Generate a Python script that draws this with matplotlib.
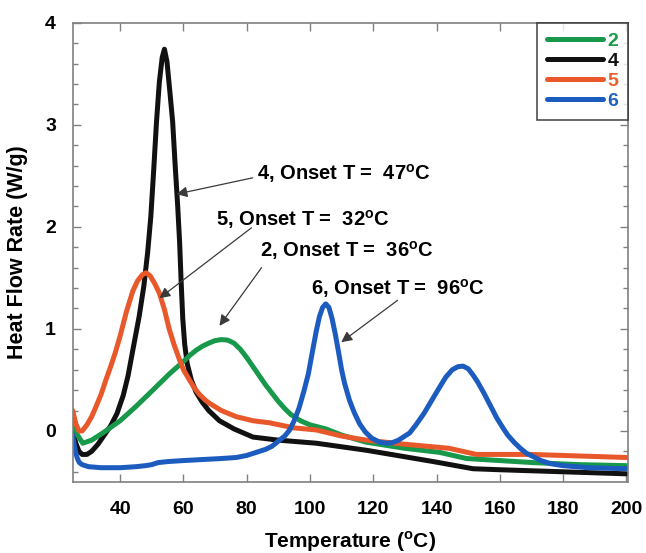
import matplotlib
matplotlib.use("Agg")
import matplotlib.pyplot as plt
from matplotlib.ticker import MultipleLocator

plt.rcParams['font.family'] = ['Liberation Sans', 'DejaVu Sans']
plt.rcParams['font.weight'] = 'bold'
plt.rcParams['mathtext.fontset'] = 'custom'
plt.rcParams['mathtext.rm'] = 'Liberation Sans:bold'

# ---- data ----
t_2 = [25, 26.5, 28.2, 31, 34.5, 40, 45, 50, 55.6, 60, 62, 64, 66, 68, 70, 72, 74, 76, 78,
       80, 82, 84, 86, 88, 90, 92, 94, 97, 100, 105, 110, 117.8, 130, 141, 149.5, 160, 170.5,
       185, 200]
v_2 = [0.1, -0.04, -0.12, -0.09, -0.02, 0.1, 0.24, 0.39, 0.56, 0.68, 0.74, 0.79, 0.83, 0.86,
       0.885, 0.895, 0.89, 0.86, 0.8, 0.72, 0.63, 0.54, 0.45, 0.37, 0.29, 0.22, 0.16, 0.1,
       0.06, 0.02, -0.04, -0.11, -0.17, -0.21, -0.27, -0.29, -0.31, -0.33, -0.34]

t_4 = [25, 26, 27, 28, 29.5, 31, 33, 35, 37, 39, 41, 42.5, 44, 46, 47.5, 48.7, 49.7, 50.6,
       51.5, 52.4, 53.3, 54, 54.8, 55.7, 56.6, 57.4, 58.2, 58.8, 59.3, 59.8, 60.4, 61.2, 62.5,
       64, 66, 68, 71.4, 76, 82, 90, 102, 118, 139, 151.5, 160, 170, 180, 190, 200]
v_4 = [0.0, -0.12, -0.2, -0.23, -0.23, -0.2, -0.13, -0.04, 0.05, 0.17, 0.35, 0.54, 0.79, 1.12,
       1.42, 1.75, 2.1, 2.55, 3.03, 3.42, 3.66, 3.74, 3.62, 3.33, 3.03, 2.6, 2.2, 1.85, 1.45,
       1.1, 0.85, 0.66, 0.5, 0.38, 0.28, 0.2, 0.1, 0.02, -0.06, -0.09, -0.12, -0.19, -0.30,
       -0.37, -0.38, -0.39, -0.40, -0.41, -0.42]

t_5 = [25, 26, 27, 28, 29.5, 31, 32.4, 34, 35.5, 37, 38.5, 40, 42, 44, 45.5, 47, 48.2, 49.5,
       51, 52.4, 54, 55.5, 57, 58.5, 60, 61.9, 63.5, 65, 67, 68.3, 72, 76.7, 82, 87.2, 95, 102,
       110, 117.8, 130, 144, 152.6, 160, 170, 180, 200]
v_5 = [0.2, 0.07, 0.0, 0.0, 0.06, 0.14, 0.24, 0.36, 0.5, 0.63, 0.77, 0.93, 1.17, 1.37, 1.47,
       1.53, 1.55, 1.52, 1.44, 1.35, 1.19, 1.0, 0.85, 0.72, 0.6, 0.5, 0.42, 0.36, 0.3, 0.27, 0.2,
       0.14, 0.1, 0.08, 0.03, 0.01, -0.05, -0.09, -0.13, -0.17, -0.23, -0.23, -0.23, -0.24,
       -0.26]

t_6 = [25, 25.5, 26, 26.5, 27.1, 28, 30, 34, 40, 45, 48, 50, 52, 55, 60, 66, 72, 76.7, 80, 83,
       86, 88, 90, 92, 93.6, 95, 96.5, 98, 99.5, 100.8, 102, 103, 104, 105, 106, 107, 108, 109,
       110, 111, 112.5, 114, 115.7, 117.5, 119.5, 122, 124.2, 126, 128, 130, 131.5, 133.5, 136,
       138.5, 141, 143, 145, 146.8, 148.4, 150, 151.5, 153, 155, 157, 159, 161, 162.5, 164.5,
       166.5, 168.5, 170.5, 173, 176, 180, 188, 200]
v_6 = [-0.04, -0.14, -0.22, -0.27, -0.31, -0.33, -0.35, -0.36, -0.36, -0.35, -0.34, -0.33,
       -0.31, -0.30, -0.29, -0.28, -0.27, -0.26, -0.24, -0.21, -0.18, -0.15, -0.1, -0.05, 0.01,
       0.1, 0.22, 0.38, 0.56, 0.78, 0.98, 1.12, 1.21, 1.245, 1.21, 1.1, 0.95, 0.78, 0.6, 0.46,
       0.3, 0.18, 0.07, -0.01, -0.07, -0.11, -0.12, -0.115, -0.09, -0.05, -0.02, 0.06, 0.17,
       0.3, 0.43, 0.53, 0.6, 0.63, 0.635, 0.61, 0.55, 0.48, 0.37, 0.25, 0.13, 0.03, -0.04,
       -0.11, -0.17, -0.22, -0.25, -0.29, -0.32, -0.34, -0.36, -0.37]

labels = ['2', '4', '5', '6']
colors = ['#17984a', '#111111', '#e8582a', '#1d5cbf']
label_colors = ['#1f9a4a', '#111111', '#e8602c', '#2060c0']

annot_texts = ['4, Onset T =  47$^\\mathregular{o}$C', '5, Onset T =  32$^\\mathregular{o}$C',
               '2, Onset T =  36$^\\mathregular{o}$C', '6, Onset T =  96$^\\mathregular{o}$C']
annot_text_pos = [(83.4, 2.52), (70.2, 2.07), (84.1, 1.77), (100.4, 1.40)]
arrow_starts = [(81.9, 2.48), (81.5, 1.99), (84.7, 1.60), (127.7, 1.28)]
arrow_tips = [(57.8, 2.32), (52.4, 1.30), (71.4, 1.03), (109.9, 0.87)]

# ---- figure ----
fig = plt.figure(figsize=(6.46, 5.53), dpi=100)
ax = fig.add_axes([0.1125, 0.1284, 0.8595, 0.8306])

series = [(t_2, v_2), (t_4, v_4), (t_5, v_5), (t_6, v_6)]
order = [1, 0, 2, 3]
lines = {}
for i in order:
    t, v = series[i]
    ln, = ax.plot(t, v, color=colors[i], lw=3.6, solid_joinstyle='round',
                  solid_capstyle='round', label=labels[i])
    lines[i] = ln

ax.set_xlim(25, 200.5)
ax.set_ylim(-0.5, 4.0)
ax.yaxis.set_minor_locator(MultipleLocator(0.2))
ax.tick_params(axis='both', which='both', direction='in', top=True, right=True,
               color='#808080')
ax.tick_params(axis='both', which='major', length=6, width=1, labelsize=14, pad=14)
ax.tick_params(axis='y', which='major', pad=12)
ax.tick_params(axis='y', which='minor', length=3.5, width=1)
ax.set_xticks(range(40, 201, 20))
ax.set_yticks(range(0, 5))
for lab in ax.get_xticklabels() + ax.get_yticklabels():
    lab.set_fontweight('bold')
for s in ax.spines.values():
    s.set_color('#808080')
    s.set_linewidth(1.2)

ax.set_xlabel('Temperature ($^\\mathregular{o}$C)', fontsize=15, fontweight='bold', labelpad=8)
ax.set_ylabel('Heat Flow Rate (W/g)', fontsize=15.5, fontweight='bold', labelpad=12)

for txt, pos in zip(annot_texts, annot_text_pos):
    ax.text(pos[0], pos[1], txt, fontsize=14.5, fontweight='bold', ha='left', va='center')
for start, tip in zip(arrow_starts, arrow_tips):
    ax.annotate('', xy=tip, xytext=start,
                arrowprops=dict(arrowstyle='-|>', color='#3a3a3a', lw=0.9,
                                mutation_scale=16, shrinkA=0, shrinkB=0))

handles = [lines[i] for i in range(4)]
leg = ax.legend(handles, labels, loc='upper right', bbox_to_anchor=(1.0, 1.0),
                borderaxespad=0, frameon=True, fancybox=False, handlelength=2.9,
                handletextpad=0.2, labelspacing=0.12, borderpad=0.5,
                prop={'weight': 'bold', 'size': 14})
leg.get_frame().set_edgecolor('#222222')
leg.get_frame().set_linewidth(1.2)
for txt, c in zip(leg.get_texts(), label_colors):
    txt.set_color(c)

fig.savefig('out.png', dpi=100)
